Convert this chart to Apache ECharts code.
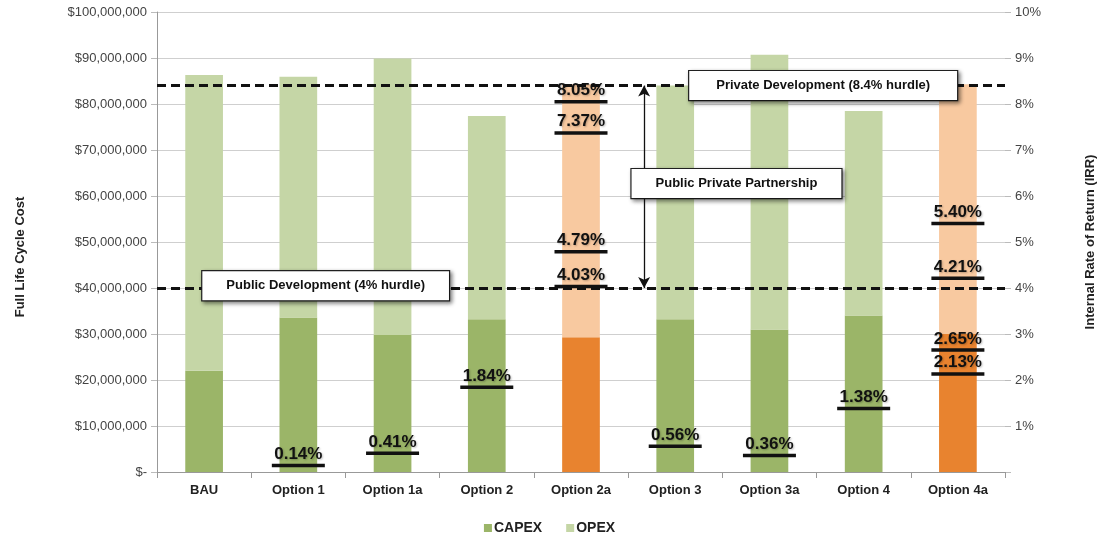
<!DOCTYPE html>
<html>
<head>
<meta charset="utf-8">
<script src="https://cdn.jsdelivr.net/npm/echarts@6/dist/echarts.min.js"></script>
<style>
html,body{margin:0;padding:0;background:#fff;}
#chart{width:1099px;height:537px;}
</style>
</head>
<body>
<div id="chart"></div>
<script>
// ---- data ----
var categories = ['BAU','Option 1','Option 1a','Option 2','Option 2a','Option 3','Option 3a','Option 4','Option 4a'];
var capex = [22000000, 33600000, 29800000, 33200000, 29300000, 33200000, 31000000, 34000000, 30000000];
var opex  = [64300000, 52300000, 60100000, 44200000, 55000000, 50800000, 59700000, 44500000, 54300000];
var pppCategories = ['Option 2a','Option 4a'];
var irrCategories = ['Option 1','Option 1a','Option 2','Option 2a','Option 2a','Option 2a','Option 2a','Option 3','Option 3a','Option 4','Option 4a','Option 4a','Option 4a','Option 4a'];
var irrValues     = [0.14, 0.41, 1.84, 8.05, 7.37, 4.79, 4.03, 0.56, 0.36, 1.38, 5.40, 4.21, 2.65, 2.13];
var hurdleValues = [4, 8.4];
var hurdleLabels = ['Public Development (4% hurdle)', 'Private Development (8.4% hurdle)'];
var pppLabel = 'Public Private Partnership';
var leftTicks = [0,10000000,20000000,30000000,40000000,50000000,60000000,70000000,80000000,90000000,100000000];
var rightTicks = [0,1,2,3,4,5,6,7,8,9,10];

// ---- styles ----
var C_CAPEX = '#9bb568', C_OPEX = '#c5d6a6', C_CAPEX_PPP = '#e8832f', C_OPEX_PPP = '#f8c9a0';
var FONT = 'Liberation Sans, Arial, Helvetica, sans-serif';

function colorize(arr, pppColor) {
  return arr.map(function (v, i) {
    return pppCategories.indexOf(categories[i]) >= 0 ? {value: v, itemStyle: {color: pppColor}} : v;
  });
}

var boxLabel = {
  show: true, position: 'inside', formatter: '{b}',
  backgroundColor: '#fff', borderColor: '#222', borderWidth: 1.2,
  padding: [8, 24], color: '#111', fontFamily: FONT, fontWeight: 'bold', fontSize: 13,
  shadowColor: 'rgba(0,0,0,0.45)', shadowBlur: 4, shadowOffsetX: 2, shadowOffsetY: 2
};

var chart = echarts.init(document.getElementById('chart'), null, {renderer: 'canvas'});
chart.setOption({
  backgroundColor: '#fff',
  animation: false,
  textStyle: {fontFamily: FONT},
  grid: {left: 157, right: 94, top: 12, bottom: 65, containLabel: false, outerBoundsMode: 'none'},
  legend: {
    data: ['CAPEX', 'OPEX'], bottom: -3, left: 'center',
    icon: 'rect', itemWidth: 8, itemHeight: 8, itemGap: 24,
    textStyle: {fontFamily: FONT, fontWeight: 'bold', fontSize: 14, color: '#222', padding: [0, 0, 0, -3]}
  },
  xAxis: [{
    type: 'category', data: categories, gridIndex: 0,
    axisLine: {lineStyle: {color: '#999'}},
    axisTick: {show: true, length: 6, lineStyle: {color: '#999'}},
    axisLabel: {fontFamily: FONT, fontWeight: 'bold', fontSize: 13, color: '#222', margin: 12}
  }, {
    type: 'value', min: 0, max: 9, show: false, gridIndex: 0
  }],
  yAxis: [{
    type: 'value', min: leftTicks[0], max: leftTicks[leftTicks.length - 1], interval: leftTicks[1] - leftTicks[0],
    axisLine: {show: true, lineStyle: {color: '#999'}},
    axisTick: {show: true, length: 6, lineStyle: {color: '#bbb'}},
    splitLine: {lineStyle: {color: '#cfcfcf'}},
    axisLabel: {fontFamily: FONT, fontSize: 13, color: '#444', margin: 10,
      formatter: function (v) { return v === 0 ? '$-' : '$' + v.toLocaleString('en-US'); }},
    name: 'Full Life Cycle Cost', nameLocation: 'middle', nameGap: 130, nameRotate: 90,
    nameTextStyle: {fontFamily: FONT, fontWeight: 'bold', fontSize: 13, color: '#222', padding: [0, 0, 0, -30]}
  }, {
    type: 'value', min: rightTicks[0], max: rightTicks[rightTicks.length - 1], interval: rightTicks[1] - rightTicks[0],
    position: 'right',
    axisLine: {show: false},
    axisTick: {show: true, length: 6, lineStyle: {color: '#bbb'}},
    splitLine: {show: false},
    axisLabel: {fontFamily: FONT, fontSize: 13, color: '#444', margin: 10,
      formatter: function (v) { return v === 0 ? '' : v + '%'; }},
    name: 'Internal Rate of Return (IRR)', nameLocation: 'middle', nameGap: 79, nameRotate: 90,
    nameTextStyle: {fontFamily: FONT, fontWeight: 'bold', fontSize: 13, color: '#222', padding: [0, 0, 12, 0]}
  }],
  series: [{
    name: 'CAPEX', type: 'bar', stack: 'cost', barWidth: '40%',
    itemStyle: {color: C_CAPEX}, data: colorize(capex, C_CAPEX_PPP), z: 2
  }, {
    name: 'OPEX', type: 'bar', stack: 'cost', barWidth: '40%',
    itemStyle: {color: C_OPEX}, data: colorize(opex, C_OPEX_PPP), z: 2
  }, {
    name: 'hurdles', type: 'scatter', xAxisIndex: 1, yAxisIndex: 1, data: [], z: 5, silent: true,
    markLine: {
      silent: true, symbol: 'none', animation: false,
      lineStyle: {color: '#111', width: 3, type: [9, 5], opacity: 1},
      label: {show: false},
      data: hurdleValues.map(function (v) { return {yAxis: v}; })
    }
  }, {
    name: 'arrow', type: 'scatter', xAxisIndex: 1, yAxisIndex: 1, data: [], z: 6, silent: true,
    markLine: {
      silent: true, symbol: ['arrow', 'arrow'], symbolSize: [9, 11], animation: false,
      lineStyle: {color: '#111', width: 1.3, type: 'solid', opacity: 1},
      label: {show: false},
      data: [[{coord: [5.17, hurdleValues[1]]}, {coord: [5.17, hurdleValues[0]]}]]
    }
  }, {
    name: 'IRR', type: 'scatter', xAxisIndex: 0, yAxisIndex: 1, z: 8,
    symbol: 'rect', symbolSize: [53, 3.5],
    itemStyle: {color: '#111', opacity: 1},
    label: {
      show: true, position: 'top', distance: 1,
      formatter: function (p) { return p.value[1].toFixed(2) + '%'; },
      fontFamily: FONT, fontWeight: 'bold', fontSize: 17, color: '#111',
      textShadowColor: 'rgba(0,0,0,0.25)', textShadowBlur: 2, textShadowOffsetX: 1, textShadowOffsetY: 1
    },
    data: irrValues.map(function (v, i) { return [irrCategories[i], v]; })
  }, {
    name: 'boxes', type: 'scatter', xAxisIndex: 1, yAxisIndex: 1, data: [], z: 10, silent: true,
    markPoint: {
      silent: true, symbol: 'rect', symbolSize: 1, animation: false,
      itemStyle: {color: 'rgba(0,0,0,0)'},
      label: boxLabel,
      data: [
        {name: hurdleLabels[0], coord: [1.79, 4.05]},
        {name: hurdleLabels[1], coord: [7.07, 8.4], label: {padding: [8, 27]}},
        {name: pppLabel, coord: [6.15, 6.27], label: {padding: [8, 24]}}
      ]
    }
  }]
});
</script>
</body>
</html>
